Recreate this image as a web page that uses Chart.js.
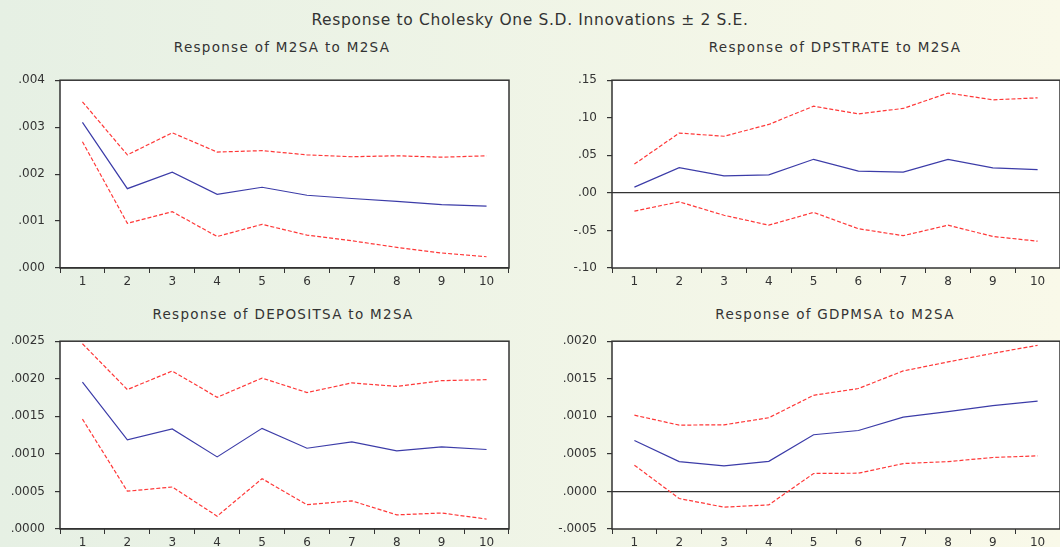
<!DOCTYPE html>
<html>
<head>
<meta charset="utf-8">
<script src="https://cdn.jsdelivr.net/npm/chart.js@4/dist/chart.umd.min.js"></script>
<style>
  html, body { margin: 0; padding: 0; }
  body {
    width: 1060px; height: 547px; overflow: hidden; position: relative;
    background: linear-gradient(to right, #e6f0e4, #f9f9e9);
    font-family: "DejaVu Sans", sans-serif; color: #333;
  }
  canvas { position: absolute; }
  .title { position: absolute; transform: translate(-50%, -50%); white-space: nowrap; }
  #mainTitle { left: 530px; top: 20px; font-size: 15.5px; letter-spacing: 0.65px; }
  .panelTitle { font-size: 13.5px; letter-spacing: 1.3px; }
</style>
</head>
<body>
<div class="title" id="mainTitle">Response to Cholesky One S.D. Innovations ± 2 S.E.</div>
<div class="title panelTitle" style="left:282px; top:47px;">Response of M2SA to M2SA</div>
<div class="title panelTitle" style="left:835px; top:47px;">Response of DPSTRATE to M2SA</div>
<div class="title panelTitle" style="left:283px; top:314px;">Response of DEPOSITSA to M2SA</div>
<div class="title panelTitle" style="left:835px; top:314px;">Response of GDPMSA to M2SA</div>

<canvas id="c1" width="520" height="229" style="left:0; top:63px;"></canvas>
<canvas id="c2" width="520" height="229" style="left:540px; top:63px;"></canvas>
<canvas id="c3" width="520" height="229" style="left:0; top:324px;"></canvas>
<canvas id="c4" width="520" height="229" style="left:540px; top:324px;"></canvas>

<script>
// periods
const periods = ["1","2","3","4","5","6","7","8","9","10"];

// M2SA -> M2SA
const m2sa      = [0.00310, 0.00169, 0.00204, 0.00157, 0.00172, 0.00155, 0.00148, 0.00142, 0.00135, 0.00132];
const m2saUp    = [0.00354, 0.00241, 0.00288, 0.00247, 0.00250, 0.00241, 0.00237, 0.00239, 0.00236, 0.00239];
const m2saLo    = [0.00269, 0.00095, 0.00120, 0.00067, 0.00093, 0.00070, 0.00058, 0.00044, 0.00032, 0.00024];
const m2saTicks = [0, 0.001, 0.002, 0.003, 0.004];

// DPSTRATE -> M2SA
const dps      = [0.0077, 0.0336, 0.0226, 0.0239, 0.0447, 0.0290, 0.0277, 0.0447, 0.0332, 0.0310];
const dpsUp    = [0.0383, 0.0796, 0.0754, 0.0911, 0.1154, 0.1052, 0.1124, 0.1329, 0.1239, 0.1265];
const dpsLo    = [-0.0243, -0.0119, -0.0298, -0.0430, -0.0260, -0.0477, -0.0570, -0.0430, -0.0580, -0.0643];
const dpsTicks = [-0.10, -0.05, 0, 0.05, 0.10, 0.15];

// DEPOSITSA -> M2SA
const dep      = [0.001954, 0.001186, 0.001331, 0.000960, 0.001340, 0.001075, 0.001160, 0.001040, 0.001092, 0.001058];
const depUp    = [0.002466, 0.001856, 0.002103, 0.001753, 0.002009, 0.001817, 0.001945, 0.001898, 0.001975, 0.001988];
const depLo    = [0.001463, 0.000503, 0.000559, 0.000171, 0.000670, 0.000324, 0.000375, 0.000188, 0.000213, 0.000132];
const depTicks = [0, 0.0005, 0.0010, 0.0015, 0.0020, 0.0025];

// GDPMSA -> M2SA
const gdp      = [0.000678, 0.000397, 0.000341, 0.000401, 0.000755, 0.000811, 0.000990, 0.001062, 0.001143, 0.001203];
const gdpUp    = [0.001015, 0.000883, 0.000887, 0.000981, 0.001280, 0.001370, 0.001604, 0.001724, 0.001839, 0.001945];
const gdpLo    = [0.000350, -0.000094, -0.000209, -0.000179, 0.000239, 0.000243, 0.000371, 0.000397, 0.000452, 0.000474];
const gdpTicks = [-0.0005, 0, 0.0005, 0.0010, 0.0015, 0.0020];

Chart.defaults.font.family = "DejaVu Sans";
Chart.defaults.font.size = 12;
Chart.defaults.color = "#333";

// white plot area + frame
const boxPlugin = {
  id: "box",
  beforeDraw(chart) {
    const a = chart.chartArea, ctx = chart.ctx;
    ctx.save();
    ctx.fillStyle = "#fff";
    ctx.fillRect(a.left, a.top, a.right - a.left, a.bottom - a.top);
    ctx.restore();
  },
  afterDraw(chart) {
    const a = chart.chartArea, ctx = chart.ctx;
    ctx.save();
    ctx.strokeStyle = "#333";
    ctx.lineWidth = 1.5;
    ctx.strokeRect(a.left, a.top, a.right - a.left, a.bottom - a.top);
    ctx.restore();
  }
};

function fmt(v, d) {
  return v.toFixed(d).replace("0.", ".");
}

function makePanel(id, mid, up, lo, ticks, decimals, yWidth, padRight) {
  const band = (data, color, dash) => ({
    data: data,
    borderColor: color,
    borderWidth: 1.2,
    borderDash: dash,
    pointRadius: 0,
    fill: false,
    tension: 0
  });

  return new Chart(document.getElementById(id), {
    type: "line",
    data: {
      labels: periods,
      datasets: [
        band(up, "#ff3838", [4, 2]),
        band(lo, "#ff3838", [4, 2]),
        band(mid, "#3c3ca8", [])
      ]
    },
    options: {
      responsive: false,
      animation: false,
      layout: { autoPadding: false, padding: { top: 10, right: padRight, left: 0, bottom: 0 } },
      plugins: { legend: { display: false }, tooltip: { enabled: false } },
      scales: {
        x: {
          type: "category",
          offset: true,
          border: { display: false },
          grid: { offset: true, drawOnChartArea: false, tickLength: 5, tickColor: "#333", tickWidth: 1 },
          ticks: { padding: 2, maxRotation: 0, autoSkip: false },
          afterFit: s => { s.height = 24; }
        },
        y: {
          min: ticks[0],
          max: ticks[ticks.length - 1],
          border: { display: false },
          grid: {
            drawOnChartArea: true,
            color: c => (c.tick && c.tick.value === 0 ? "#333" : "rgba(0,0,0,0)"),
            lineWidth: 1.2,
            tickLength: 5,
            tickColor: "#333",
            tickWidth: 1.2
          },
          ticks: { padding: 10, callback: v => fmt(v, decimals) },
          afterBuildTicks: s => { s.ticks = ticks.map(v => ({ value: v })); },
          afterFit: s => { s.width = yWidth; }
        }
      }
    },
    plugins: [boxPlugin]
  });
}

makePanel("c1", m2sa, m2saUp, m2saLo, m2saTicks, 3, 60, 11);
makePanel("c2", dps, dpsUp, dpsLo, dpsTicks, 2, 72, 0);
makePanel("c3", dep, depUp, depLo, depTicks, 4, 60, 11);
makePanel("c4", gdp, gdpUp, gdpLo, gdpTicks, 4, 72, 0);
</script>
</body>
</html>
